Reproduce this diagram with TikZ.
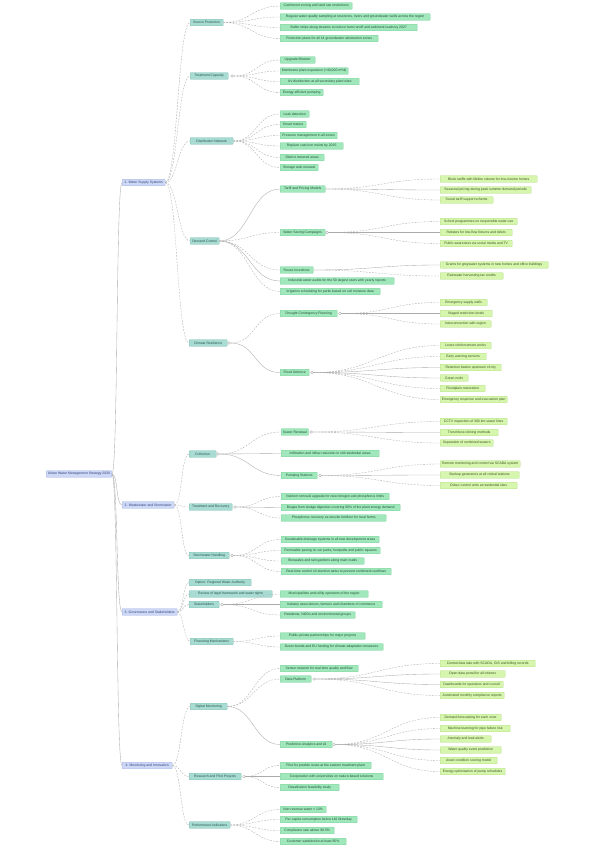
\documentclass[tikz,border=0pt]{standalone}
\usepackage{fontspec}
\setmainfont{Liberation Sans}
\definecolor{aFill}{HTML}{CDD8F6}\definecolor{aDraw}{HTML}{A6B6E4}\definecolor{aText}{HTML}{34407A}
\definecolor{bFill}{HTML}{A8DCD3}\definecolor{bDraw}{HTML}{84C0B4}\definecolor{bText}{HTML}{24524A}
\definecolor{cFill}{HTML}{A0E8BC}\definecolor{cDraw}{HTML}{7CCF9C}\definecolor{cText}{HTML}{1F4D33}
\definecolor{dFill}{HTML}{D6F6AE}\definecolor{dDraw}{HTML}{B4DE88}\definecolor{dText}{HTML}{3A5020}
\definecolor{lineC}{HTML}{ABABAB}
\tikzset{
  base/.style={draw, anchor=west, rounded corners=0.6pt, line width=0.3pt, minimum height=6.6pt,
    inner xsep=1.8pt, inner ysep=0pt, font=\fontsize{3.4}{4}\selectfont},
  lone/.style={base, fill=aFill, draw=aDraw, text=aText},
  ltwo/.style={base, fill=bFill, draw=bDraw, text=bText},
  lthree/.style={base, fill=cFill, draw=cDraw, text=cText},
  lfour/.style={base, fill=dFill, draw=dDraw, text=dText},
  conn/.style={draw=lineC, line width=0.35pt},
  dsh/.style={dash pattern=on 1.8pt off 1.3pt},
  sld/.style={solid},
  ind/.style={circle, draw=lineC, fill=white, line width=0.3pt, inner sep=0pt, minimum size=2.6pt}
}
\newcommand\nd[6]{\node[#1, minimum width=#5pt] (#2) at (#3,#4) {#6};}
\newcommand\fan[3]{\foreach \c/\s in {#3}{\draw[conn,\s] (#1) .. controls +(#2,0) and +(-#2,0) .. (\c.west);}}
\begin{document}
\begin{tikzpicture}[x=1pt,y=-1pt]
\fill[white] (0,0) rectangle (599,848);
\useasboundingbox (0,0) rectangle (599,848);

% root and level 1
\nd{lone}{root}{46}{474}{64}{Urban Water Management Strategy 2030}
\nd{lone}{La}{122}{182.5}{43}{1. Water Supply Systems}
\nd{lone}{Lb}{122}{505}{52}{2. Wastewater and Stormwater}
\nd{lone}{Lc}{122}{612}{55}{3. Governance and Stakeholders}
\nd{lone}{Ld}{122}{765.5}{50}{4. Monitoring and Innovation}

% ---- branch 1
\nd{ltwo}{Ma}{190}{22.5}{33}{Source Protection}
\nd{lthree}{a1}{280}{6}{72}{Catchment zoning and land use restrictions}
\nd{lthree}{a2}{280}{17}{150}{Regular water quality sampling at reservoirs, rivers and groundwater wells across the region}
\nd{lthree}{a3}{280}{27.5}{137}{Buffer strips along streams to reduce farm runoff and sediment loads by 2027}
\nd{lthree}{a4}{280}{38.5}{98}{Protection plans for all 14 groundwater abstraction zones}

\nd{ltwo}{Mb}{190}{76}{38}{Treatment Capacity}
\node[ind] (Mbi) at (232,76) {};
\nd{lthree}{b1}{280}{60}{35}{Upgrade filtration}
\nd{lthree}{b2}{280}{71}{67}{Membrane plant expansion (+40,000 m³/d)}
\nd{lthree}{b3}{280}{81.5}{79}{UV disinfection at all secondary plant sites}
\nd{lthree}{b4}{280}{92.5}{43}{Energy-efficient pumping}

\nd{ltwo}{Mc}{190}{141}{43}{Distribution Network}
\nd{lthree}{c1}{280}{114}{29}{Leak detection}
\nd{lthree}{c2}{280}{124.5}{26}{Smart meters}
\nd{lthree}{c3}{280}{135.5}{57}{Pressure management in all zones}
\nd{lthree}{c4}{280}{146}{63}{Replace cast-iron mains by 2035}
\nd{lthree}{c5}{280}{157.5}{44}{District metered areas}
\nd{lthree}{c6}{280}{167.5}{38}{Storage tank renewal}

\nd{ltwo}{Md}{190}{241}{29}{Demand Control}
\nd{lthree}{d1}{280}{189}{45}{Tariff and Pricing Models}
\nd{lthree}{d2}{280}{232.5}{45}{Water Saving Campaigns}
\node[ind] (d2i) at (327,232.5) {};
\nd{lthree}{d3}{280}{270}{33}{Reuse Incentives}
\nd{lthree}{d4}{280}{281}{114}{Industrial water audits for the 50 largest users with yearly reports}
\nd{lthree}{d5}{280}{291.5}{100}{Irrigation scheduling for parks based on soil moisture data}
\nd{lfour}{d1a}{440}{179}{97}{Block tariffs with lifeline volume for low-income homes}
\nd{lfour}{d1b}{440}{190}{91}{Seasonal pricing during peak summer demand periods}
\nd{lfour}{d1c}{440}{200}{53}{Social tariff support scheme}
\nd{lfour}{d2a}{440}{221.5}{77}{School programmes on responsible water use}
\nd{lfour}{d2b}{440}{232.5}{72}{Rebates for low-flow fixtures and toilets}
\nd{lfour}{d2c}{440}{243.5}{72}{Public awareness via social media and TV}
\nd{lfour}{d3a}{440}{265}{108}{Grants for greywater systems in new homes and office buildings}
\nd{lfour}{d3b}{440}{276}{63}{Rainwater harvesting tax credits}

\nd{ltwo}{Me}{189}{343}{38}{Climate Resilience}
\node[ind] (Mei) at (229,343) {};
\nd{lthree}{e1}{280}{313.5}{57}{Drought Contingency Planning}
\node[ind] (e1i) at (340,313.5) {};
\nd{lthree}{e2}{280}{372.5}{29}{Flood Defence}
\node[ind] (e2i) at (312,372.5) {};
\nd{lfour}{e1a}{440}{302.5}{47}{Emergency supply wells}
\nd{lfour}{e1b}{440}{313.5}{52}{Staged restriction levels}
\nd{lfour}{e1c}{440}{324}{51}{Interconnection with region}
\nd{lfour}{e2a}{440}{345.5}{51}{Levee reinforcement works}
\nd{lfour}{e2b}{440}{356.5}{46}{Early warning sensors}
\nd{lfour}{e2c}{440}{367.5}{61}{Retention basins upstream of city}
\nd{lfour}{e2d}{440}{378}{28}{Green roofs}
\nd{lfour}{e2e}{440}{388.5}{45}{Floodplain restoration}
\nd{lfour}{e2f}{440}{399.5}{66}{Emergency response and evacuation plan}

% ---- branch 2
\nd{ltwo}{Mf}{189}{454}{27}{Collection}
\node[ind] (Mfi) at (218,454) {};
\nd{lthree}{f1}{281}{432}{27}{Sewer Renewal}
\node[ind] (f1i) at (311,432) {};
\nd{lthree}{f2}{281}{453.5}{98}{Infiltration and inflow reduction in old residential areas}
\nd{lthree}{f3}{281}{475.5}{36}{Pumping Stations}
\node[ind] (f3i) at (320,475.5) {};
\nd{lfour}{f1a}{440}{421.5}{67}{CCTV inspection of 300 km sewer lines}
\nd{lfour}{f1b}{440}{432.5}{58}{Trenchless relining methods}
\nd{lfour}{f1c}{440}{443}{53}{Separation of combined sewers}
\nd{lfour}{f3a}{440}{464}{80}{Remote monitoring and control via SCADA system}
\nd{lfour}{f3b}{440}{475}{79}{Backup generators at all critical stations}
\nd{lfour}{f3c}{440}{485.5}{77}{Odour control units at residential sites}

\nd{ltwo}{Mg}{189}{507}{43}{Treatment and Recovery}
\node[ind] (Mgi) at (235,507) {};
\nd{lthree}{g1}{281}{496.5}{108}{Nutrient removal upgrade for new nitrogen and phosphorus limits}
\nd{lthree}{g2}{281}{507.5}{119}{Biogas from sludge digestion covering 60\% of the plant energy demand}
\nd{lthree}{g3}{281}{518}{105}{Phosphorus recovery as struvite fertiliser for local farms}

\nd{ltwo}{Mh}{189}{555.5}{40}{Stormwater Handling}
\node[ind] (Mhi) at (232,555.5) {};
\nd{lthree}{h1}{281}{539.5}{98}{Sustainable drainage systems in all new development areas}
\nd{lthree}{h2}{281}{550.5}{99}{Permeable paving on car parks, footpaths and public squares}
\nd{lthree}{h3}{281}{561}{83}{Bioswales and rain gardens along main roads}
\nd{lthree}{h4}{281}{571.5}{110}{Real-time control of retention tanks to prevent combined overflows}

% ---- branch 3
\nd{ltwo}{Mi1}{189}{582.5}{62}{Option: Regional Water Authority}
\nd{ltwo}{Mi2}{189}{594}{83}{Review of legal framework and water rights}
\nd{ltwo}{Mi3}{189}{604.5}{30}{Stakeholders}
\node[ind] (Mi3i) at (222,604.5) {};
\nd{ltwo}{Mi4}{190}{641.5}{43}{Financing Mechanisms}
\nd{lthree}{i3a}{280}{594}{88}{Municipalities and utility operators of the region}
\nd{lthree}{i3b}{280}{604.5}{102}{Industry associations, farmers and chambers of commerce}
\nd{lthree}{i3c}{280}{615}{75}{Residents, NGOs and environmental groups}
\nd{lthree}{i4a}{280}{636}{85}{Public-private partnerships for major projects}
\nd{lthree}{i4b}{280}{647}{103}{Green bonds and EU funding for climate adaptation measures}

% ---- branch 4
\nd{ltwo}{Mj}{190}{706.5}{37}{Digital Monitoring}
\nd{lthree}{j1}{280}{668.5}{78}{Sensor network for real-time quality and flow}
\nd{lthree}{j2}{280}{679}{31}{Data Platform}
\node[ind] (j2i) at (314,679) {};
\nd{lthree}{j3}{280}{744.5}{52}{Predictive Analytics and AI}
\node[ind] (j3i) at (334,744.5) {};
\nd{lfour}{j2a}{440}{663.5}{95}{Central data lake with SCADA, GIS and billing records}
\nd{lfour}{j2b}{440}{674}{65}{Open data portal for all citizens}
\nd{lfour}{j2c}{440}{684.5}{63}{Dashboards for operators and council}
\nd{lfour}{j2d}{440}{695.5}{64}{Automated monthly compliance reports}
\nd{lfour}{j3a}{440}{717.5}{61}{Demand forecasting for each zone}
\nd{lfour}{j3b}{440}{728.5}{70}{Machine learning for pipe failure risk}
\nd{lfour}{j3c}{440}{739}{51}{Anomaly and leak alerts}
\nd{lfour}{j3d}{440}{750}{61}{Water quality event prediction}
\nd{lfour}{j3e}{440}{760.5}{57}{Asset condition scoring model}
\nd{lfour}{j3f}{440}{771.5}{65}{Energy optimisation of pump schedules}

\nd{ltwo}{Mk}{189}{776.5}{52}{Research and Pilot Projects}
\node[ind] (Mki) at (244,776.5) {};
\nd{lthree}{k1}{280}{765.5}{91}{Pilot for potable reuse at the eastern treatment plant}
\nd{lthree}{k2}{280}{776.5}{103}{Cooperation with universities on nature-based solutions}
\nd{lthree}{k3}{280}{787.5}{59}{Desalination feasibility study}

\nd{ltwo}{Ml}{189}{825}{41}{Performance Indicators}
\nd{lthree}{l1}{280}{809.5}{46}{Non-revenue water < 12\%}
\nd{lthree}{l2}{280}{819.5}{77}{Per-capita consumption below 110 litres/day}
\nd{lthree}{l3}{280}{830.5}{54}{Compliance rate above 99.5\%}
\nd{lthree}{l4}{280}{841.5}{66}{Customer satisfaction at least 85\%}

% ---- connectors
\fan{root.east}{6}{La/sld,Lb/sld,Lc/sld,Ld/sld}
\fan{La.east}{12}{Ma/dsh,Mb/dsh,Mc/dsh,Md/dsh,Me/dsh}
\fan{Lb.east}{8}{Mf/dsh,Mg/dsh,Mh/dsh}
\fan{Lc.east}{6}{Mi1/dsh,Mi2/dsh,Mi3/dsh,Mi4/dsh}
\fan{Ld.east}{9}{Mj/dsh,Mk/dsh,Ml/dsh}

\fan{Ma.east}{28}{a1/dsh,a2/dsh,a3/dsh,a4/dsh}
\fan{Mbi.east}{24}{b1/dsh,b2/dsh,b3/dsh,b4/dsh}
\fan{Mc.east}{24}{c1/dsh,c2/dsh,c3/dsh,c4/dsh,c5/dsh,c6/dsh}
\fan{Md.east}{30}{d1/sld,d2/dsh,d3/dsh,d4/sld,d5/dsh}
\fan{Mei.east}{26}{e1/dsh,e2/sld}
\fan{d1.east}{55}{d1a/dsh,d1b/sld,d1c/dsh}
\fan{d2i.east}{55}{d2a/dsh,d2b/sld,d2c/dsh}
\fan{d3.east}{60}{d3a/sld,d3b/dsh}
\fan{e1i.east}{50}{e1a/dsh,e1b/sld,e1c/dsh}
\fan{e2i.east}{60}{e2a/dsh,e2b/dsh,e2c/sld,e2d/sld,e2e/dsh,e2f/dsh}

\fan{Mfi.east}{30}{f1/dsh,f2/sld,f3/sld}
\fan{f1i.east}{60}{f1a/dsh,f1b/sld,f1c/dsh}
\fan{f3i.east}{55}{f3a/dsh,f3b/sld,f3c/dsh}
\fan{Mgi.east}{22}{g1/dsh,g2/sld,g3/dsh}
\fan{Mhi.east}{24}{h1/dsh,h2/dsh,h3/dsh,h4/dsh}

\fan{Mi3i.east}{28}{i3a/dsh,i3b/sld,i3c/dsh}
\fan{Mi4.east}{22}{i4a/dsh,i4b/dsh}

\fan{Mj.east}{26}{j1/dsh,j2/dsh,j3/sld}
\fan{j2i.east}{60}{j2a/dsh,j2b/sld,j2c/sld,j2d/dsh}
\fan{j3i.east}{50}{j3a/dsh,j3b/dsh,j3c/sld,j3d/sld,j3e/dsh,j3f/dsh}
\fan{Mki.east}{18}{k1/dsh,k2/sld,k3/dsh}
\fan{Ml.east}{24}{l1/dsh,l2/dsh,l3/dsh,l4/dsh}
\end{tikzpicture}
\end{document}
